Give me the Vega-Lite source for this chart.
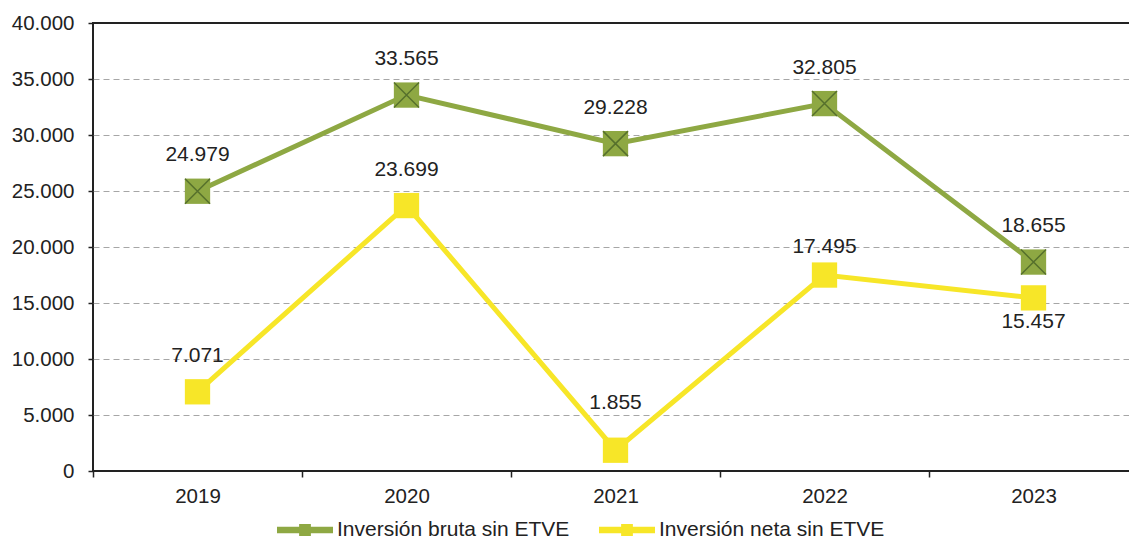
{
  "$schema": "https://vega.github.io/schema/vega-lite/v6.json",
  "width": 1045,
  "height": 448,
  "autosize": "none",
  "padding": {"left": 93, "top": 23, "right": 0, "bottom": 69},
  "background": "white",
  "config": {
    "locale": {"number": {"decimal": ",", "thousands": ".", "grouping": [3], "currency": ["", " €"]}},
    "view": {"stroke": "#222222", "strokeWidth": 2},
    "font": "Liberation Sans"
  },
  "data": {
    "values": [
      {"year": "2019", "serie": "Inversión bruta sin ETVE", "value": 24979},
      {"year": "2020", "serie": "Inversión bruta sin ETVE", "value": 33565},
      {"year": "2021", "serie": "Inversión bruta sin ETVE", "value": 29228},
      {"year": "2022", "serie": "Inversión bruta sin ETVE", "value": 32805},
      {"year": "2023", "serie": "Inversión bruta sin ETVE", "value": 18655},
      {"year": "2019", "serie": "Inversión neta sin ETVE", "value": 7071},
      {"year": "2020", "serie": "Inversión neta sin ETVE", "value": 23699},
      {"year": "2021", "serie": "Inversión neta sin ETVE", "value": 1855},
      {"year": "2022", "serie": "Inversión neta sin ETVE", "value": 17495},
      {"year": "2023", "serie": "Inversión neta sin ETVE", "value": 15457}
    ]
  },
  "encoding": {
    "x": {
      "field": "year", "type": "ordinal", "bandPosition": 0.5,
      "scale": {"type": "band", "paddingInner": 0, "paddingOuter": 0},
      "axis": {"title": null, "labelAngle": 0, "tickBand": "extent", "tickSize": 6, "tickColor": "#222222", "tickWidth": 1.5, "domain": false, "grid": false, "labelFontSize": 20.5, "labelColor": "#222222", "labelPadding": 9, "labelFont": "Liberation Sans"}
    },
    "y": {
      "field": "value", "type": "quantitative",
      "scale": {"domain": [0, 40000], "nice": false},
      "axis": {"title": null, "values": [0, 5000, 10000, 15000, 20000, 25000, 30000, 35000, 40000], "format": ",d", "tickSize": 5, "tickColor": "#222222", "tickWidth": 1.5, "domain": false, "grid": true, "gridDash": [6, 4], "gridColor": "#a6a6a6", "gridWidth": 1,
        "gridOpacity": {"condition": {"test": "datum.value == 40000 || datum.value == 0", "value": 0}, "value": 1},
        "labelFontSize": 20.5, "labelPadding": 14, "labelColor": "#222222", "labelFont": "Liberation Sans"}
    }
  },
  "layer": [
    {
      "mark": {"type": "line", "strokeWidth": 5},
      "encoding": {
        "color": {
          "field": "serie", "type": "nominal",
          "scale": {"domain": ["Inversión bruta sin ETVE", "Inversión neta sin ETVE"], "range": ["#8EA843", "#F7E628"]},
          "legend": {
            "orient": "none", "legendX": 184, "legendY": 479, "direction": "horizontal", "title": null,
            "symbolType": "M-1,-0.115L-0.21,-0.115L-0.21,-0.21L0.21,-0.21L0.21,-0.115L1,-0.115L1,0.115L0.21,0.115L0.21,0.21L-0.21,0.21L-0.21,0.115L-1,0.115Z",
            "symbolSize": 3136, "symbolStrokeWidth": 0, "labelFontSize": 21, "labelColor": "#222222", "labelFont": "Liberation Sans",
            "labelOffset": 4, "columnPadding": 29, "padding": 0, "labelLimit": 0,
            "encode": {"symbols": {"update": {"fill": {"scale": "color", "field": "value"}, "stroke": {"value": "transparent"}, "opacity": {"value": 1}}}}
          }
        }
      }
    },
    {
      "mark": {"type": "point", "shape": "square", "filled": true, "size": 640, "opacity": 1},
      "encoding": {"color": {"field": "serie", "type": "nominal"}}
    },
    {
      "transform": [{"filter": "datum.serie == 'Inversión bruta sin ETVE'"}],
      "mark": {"type": "point", "shape": "M-1,-1L1,1M-1,1L1,-1", "filled": false, "size": 625, "stroke": "#56702C", "strokeWidth": 1.5, "opacity": 1}
    },
    {
      "transform": [{"filter": "!(datum.serie == 'Inversión neta sin ETVE' && (datum.year == '2023' || datum.year == '2021' || datum.year == '2022'))"}],
      "mark": {"type": "text", "dy": -36, "fontSize": 21, "color": "#222222", "baseline": "middle", "font": "Liberation Sans"},
      "encoding": {"text": {"field": "value", "type": "quantitative", "format": ",d"}}
    },
    {
      "transform": [{"filter": "datum.serie == 'Inversión neta sin ETVE' && datum.year == '2021'"}],
      "mark": {"type": "text", "dy": -47, "fontSize": 21, "color": "#222222", "baseline": "middle", "font": "Liberation Sans"},
      "encoding": {"text": {"field": "value", "type": "quantitative", "format": ",d"}}
    },
    {
      "transform": [{"filter": "datum.serie == 'Inversión neta sin ETVE' && datum.year == '2022'"}],
      "mark": {"type": "text", "dy": -28, "fontSize": 21, "color": "#222222", "baseline": "middle", "font": "Liberation Sans"},
      "encoding": {"text": {"field": "value", "type": "quantitative", "format": ",d"}}
    },
    {
      "transform": [{"filter": "datum.serie == 'Inversión neta sin ETVE' && datum.year == '2023'"}],
      "mark": {"type": "text", "dy": 24, "fontSize": 21, "color": "#222222", "baseline": "middle", "font": "Liberation Sans"},
      "encoding": {"text": {"field": "value", "type": "quantitative", "format": ",d"}}
    }
  ]
}
